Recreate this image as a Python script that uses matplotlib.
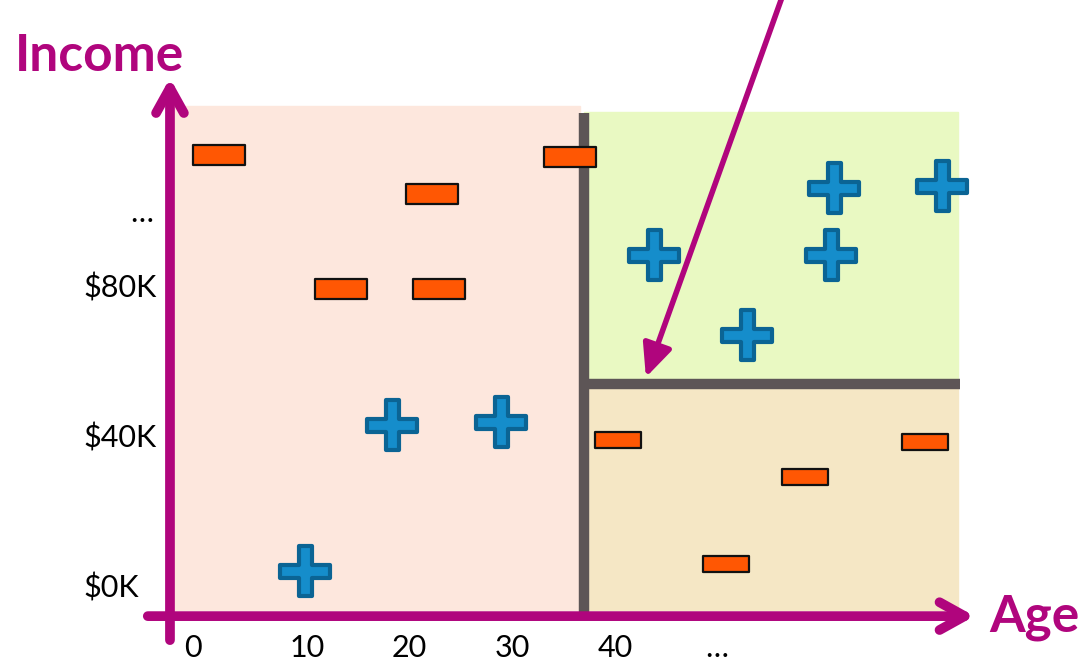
import numpy as np
from matplotlib import pyplot as plt
from matplotlib.patches import FancyArrowPatch, Rectangle
from matplotlib.path import Path

# data: customers by age and income (income in $K)
minus_age = [1.4, 22.2, 13.3, 22.9, 35.6, 40.3, 70.2, 58.5, 50.8]
minus_income = [115.6, 105.1, 79.7, 79.7, 114.9, 39.5, 39.0, 29.7, 6.3]
plus_age = [18.3, 28.9, 9.8, 43.8, 61.3, 71.8, 61.0, 52.8]
plus_income = [43.6, 44.3, 4.5, 88.8, 106.7, 107.3, 88.8, 67.6]

age_split = 37.0      # first split on age
income_split = 54.4   # second split on income (age > split)

xtick_pos = [-1.1, 10, 20, 30, 40, 49.9]
xtick_labels = ['0', '10', '20', '30', '40', '…']
ytick_pos = [0, 40, 80, 100]
ytick_labels = ['$0K', '$40K', '$80K', '…']

MAGENTA = '#B0057D'
plt.rcParams['font.family'] = ['Lato', 'DejaVu Sans']

fig = plt.figure(figsize=(10.79, 6.63), dpi=100)
ax = fig.add_axes([0, 0, 1, 1])
ax.set_xlim(-19.89, 85.17)
ax.set_ylim(-20.0, 156.8)
ax.axis('off')

# shaded regions of the tree
ax.add_patch(Rectangle((-2.95, -5.9), age_split - 0.4 + 2.95, 134.4, color='#FDE7DD', zorder=0))
ax.add_patch(Rectangle((age_split, income_split), 73.4 - age_split, 127.0 - income_split,
                       color='#E9F9C2', zorder=0))
ax.add_patch(Rectangle((age_split, -5.9), 73.4 - age_split, income_split + 5.9,
                       color='#F5E7C5', zorder=0))

# split lines
ax.plot([age_split, age_split], [-7.5, 126.8], color='#5D5556', lw=7.5, zorder=2,
        solid_capstyle='butt')
ax.plot([age_split - 0.4, 73.6], [income_split, income_split], color='#5D5556', lw=7.5,
        zorder=2, solid_capstyle='butt')

# axes arrows
def axis_arrow(p0, p1):
    arr = FancyArrowPatch(p0, p1, arrowstyle='->,head_length=18,head_width=10',
                          mutation_scale=1, color=MAGENTA, lw=7, capstyle='round',
                          joinstyle='round', shrinkA=0, shrinkB=0, zorder=5)
    ax.add_patch(arr)

axis_arrow((-3.34, -13.9), (-3.34, 136.0))
axis_arrow((-5.5, -7.5), (75.0, -7.5))

# annotation arrow pointing at the income split
ax.annotate('', xy=(43.0, 56.2), xytext=(56.25, 157.5),
            arrowprops=dict(arrowstyle='-|>,head_length=1.1,head_width=0.5', color=MAGENTA,
                            lw=4, shrinkA=0, shrinkB=0, mutation_scale=18), zorder=6)

# markers
rect_marker = Path([(-1.35, -0.5), (1.35, -0.5), (1.35, 0.5), (-1.35, 0.5), (-1.35, -0.5)],
                   closed=True)
w = 0.13
cross_marker = Path([(-w, -0.5), (w, -0.5), (w, -w), (0.5, -w), (0.5, w), (w, w), (w, 0.5),
                     (-w, 0.5), (-w, w), (-0.5, w), (-0.5, -w), (-w, -w), (-w, -0.5)],
                    closed=True)

minus_age = np.array(minus_age)
minus_income = np.array(minus_income)
left = minus_age < age_split
ax.plot(minus_age[left], minus_income[left], ls='none', marker=rect_marker, ms=37,
        mfc='#FF5703', mec='#111111', mew=1.6, zorder=4)
ax.plot(minus_age[~left], minus_income[~left], ls='none', marker=rect_marker, ms=33,
        mfc='#FF5703', mec='#111111', mew=1.6, zorder=4)
ax.plot(plus_age, plus_income, ls='none', marker=cross_marker, ms=36,
        mfc='#158DCB', mec='#0B6494', mew=3, zorder=4)

# tick labels
for x, lab in zip(xtick_pos, xtick_labels):
    ax.text(x, -16.0, lab, ha='center', va='center', fontsize=22, color='black')
for y, lab in zip(ytick_pos, ytick_labels):
    if lab == '…':
        ax.text(-5.0, y, lab, ha='right', va='center', fontsize=22, color='black')
    else:
        ax.text(-11.8, y, lab, ha='left', va='center', fontsize=22, color='black')

# axis titles
ax.text(-18.4, 137.8, 'Income', ha='left', va='baseline', fontsize=37,
        fontweight='bold', color=MAGENTA)
ax.text(76.4, -11.7, 'Age', ha='left', va='baseline', fontsize=37,
        fontweight='bold', color=MAGENTA)

fig.savefig('out.png', dpi=100)
